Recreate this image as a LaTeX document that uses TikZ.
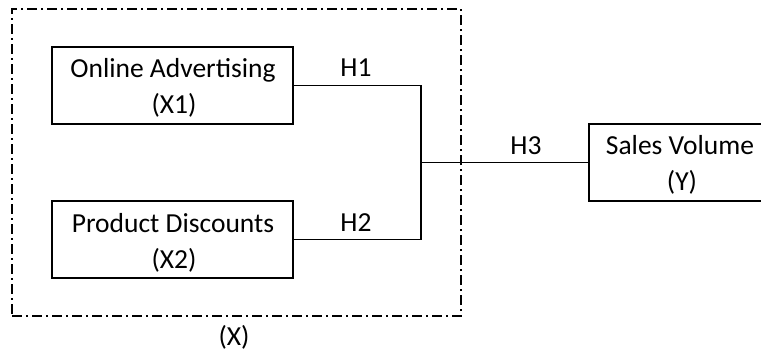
\documentclass[tikz,border=0pt]{standalone}
\usepackage{fontspec}
\setmainfont{Carlito}
\begin{document}
\begin{tikzpicture}[x=1pt,y=-1pt,
  box/.style={draw, line width=1.5pt, minimum width=241pt, minimum height=77pt, inner sep=0pt},
  txt/.style={font=\fontsize{27.5}{33}\selectfont, anchor=base, inner sep=0pt},
  conn/.style={line width=1.3pt},
  group/.style={draw, line width=1.4pt, dash pattern=on 10pt off 4pt on 2pt off 4pt, minimum width=449pt, minimum height=307pt, inner sep=0pt}]
\useasboundingbox (0,0) rectangle (761,354);
\clip (0,0) rectangle (761,354);
\node[group] (xbox) at (236.5,162.5) {};
\node[box] (b1) at (172.5,85.5) {};
\node[box] (b2) at (172.5,239.5) {};
\node[box] (y) at (709.5,162.5) {};
\node[txt] (t1a) at (173,77) {Online Advertising};
\node[txt] (t1b) at (174,113) {(X1)};
\node[txt] (t2a) at (173,232) {Product Discounts};
\node[txt] (t2b) at (174,268) {(X2)};
\node[txt] (tya) at (680,154) {Sales Volume};
\node[txt] (tyb) at (682,190) {(Y)};
\coordinate (jm) at (421,162.5);
\draw[conn] (b1.east) -| (jm) |- (b2.east);
\draw[conn] (jm) -- (y.west);
\node[txt] (h1) at (356,76) {H1};
\node[txt] (h2) at (356,231) {H2};
\node[txt] (h3) at (526,154) {H3};
\node[txt] (xl) at (234,345) {(X)};
\end{tikzpicture}
\end{document}
